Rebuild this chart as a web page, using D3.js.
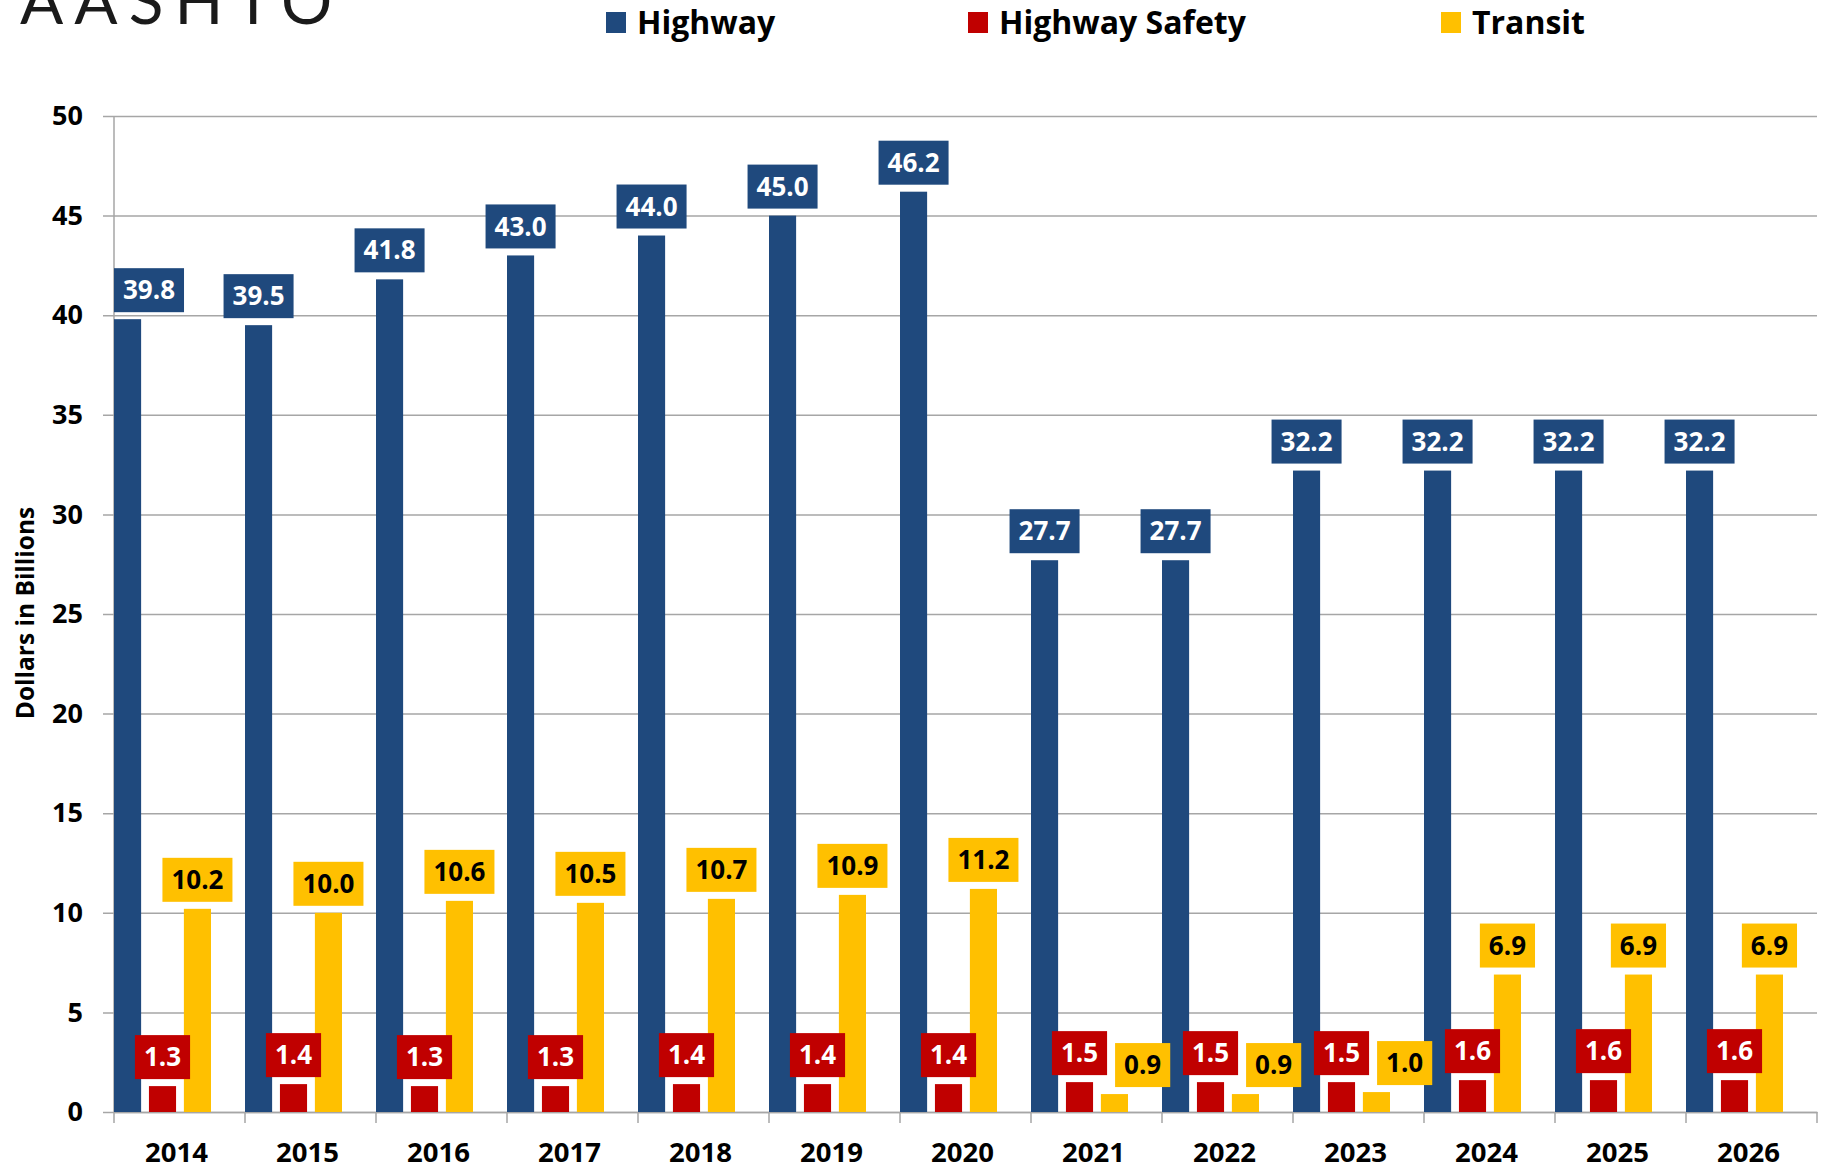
<!DOCTYPE html>
<html>
<head>
<meta charset="utf-8">
<script src="https://cdn.jsdelivr.net/npm/d3@7"></script>
<style>
  html, body { margin: 0; padding: 0; background: #fff; overflow: hidden; }
  svg { display: block; font-family: "Open Sans", "DejaVu Sans", sans-serif; }
</style>
</head>
<body>
<svg id="chart" width="1825" height="1171"></svg>
<script>
"use strict";

var years = ["2014", "2015", "2016", "2017", "2018", "2019", "2020",
             "2021", "2022", "2023", "2024", "2025", "2026"];
var seriesNames = ["Highway", "Highway Safety", "Transit"];
var highway = [39.8, 39.5, 41.8, 43.0, 44.0, 45.0, 46.2, 27.7, 27.7, 32.2, 32.2, 32.2, 32.2];
var highwaySafety = [1.3, 1.4, 1.3, 1.3, 1.4, 1.4, 1.4, 1.5, 1.5, 1.5, 1.6, 1.6, 1.6];
var transit = [10.2, 10.0, 10.6, 10.5, 10.7, 10.9, 11.2, 0.9, 0.9, 1.0, 6.9, 6.9, 6.9];
var yTicks = [0, 5, 10, 15, 20, 25, 30, 35, 40, 45, 50];

var colors = { "Highway": "#1F497D", "Highway Safety": "#C00000", "Transit": "#FFC000" };
var labelText = { "Highway": "#fff", "Highway Safety": "#fff", "Transit": "#000" };

var svg = d3.select("#chart");

var plotLeft = 114, plotRight = 1817, plotTop = 116, plotBottom = 1112;

var x = d3.scaleBand().domain(years).range([plotLeft, plotRight]).padding(0);
var xs = d3.scaleBand().domain(seriesNames).range([0, 97]).paddingInner(0.224);
var y = d3.scaleLinear().domain([0, 50]).range([plotBottom, plotTop]);

var values = { "Highway": highway, "Highway Safety": highwaySafety, "Transit": transit };

// logo text, its top is cut by the page edge as in the source image
svg.append("text")
    .attr("x", 20)
    .attr("y", 24)
    .attr("font-family", "Lato, 'Open Sans', sans-serif")
    .attr("font-weight", 400)
    .attr("font-size", 64)
    .attr("letter-spacing", 11)
    .attr("fill", "#1a1a1a")
    .text("AASHTO");

// legend
var legendX = [606, 968, 1441];
var legend = svg.append("g");
seriesNames.forEach(function (name, i) {
    legend.append("rect")
        .attr("x", legendX[i]).attr("y", 12)
        .attr("width", 20).attr("height", 21)
        .attr("fill", colors[name]);
    legend.append("text")
        .attr("x", legendX[i] + 31).attr("y", 23)
        .attr("dy", "0.35em")
        .attr("font-size", 32)
        .attr("font-weight", "bold")
        .attr("fill", "#000")
        .text(name);
});

// gridlines + y axis
var yAxis = svg.append("g")
    .attr("transform", "translate(" + plotLeft + ",0)")
    .call(d3.axisLeft(y).tickValues(yTicks).tickSize(0).tickPadding(31));
yAxis.select(".domain").remove();
yAxis.selectAll(".tick line")
    .attr("x1", -11)
    .attr("x2", plotRight - plotLeft)
    .attr("stroke", "#a6a6a6")
    .attr("stroke-width", 1.5);
yAxis.selectAll(".tick text")
    .attr("font-size", 27)
    .attr("font-weight", "bold")
    .attr("font-family", "'Open Sans', sans-serif")
    .attr("fill", "#000");

svg.append("line")
    .attr("x1", plotLeft).attr("x2", plotLeft)
    .attr("y1", plotTop).attr("y2", plotBottom)
    .attr("stroke", "#a6a6a6").attr("stroke-width", 1.5);

// x axis
var xAxis = svg.append("g")
    .attr("transform", "translate(0," + plotBottom + ")")
    .call(d3.axisBottom(x).tickSize(0).tickPadding(0));
xAxis.select(".domain").attr("stroke", "#a6a6a6").attr("stroke-width", 1.5);
xAxis.selectAll(".tick text")
    .attr("y", 40)
    .attr("x", -3)
    .attr("dy", "0.35em")
    .attr("font-size", 27.5)
    .attr("font-weight", "bold")
    .attr("font-family", "'Open Sans', sans-serif")
    .attr("fill", "#000");

var bounds = years.map(function (d) { return x(d); }).concat([plotRight]);
svg.append("g").selectAll("line")
    .data(bounds)
    .enter()
    .append("line")
    .attr("x1", function (d) { return d; })
    .attr("x2", function (d) { return d; })
    .attr("y1", plotBottom)
    .attr("y2", plotBottom + 11)
    .attr("stroke", "#a6a6a6")
    .attr("stroke-width", 1.5);

// bars
var bars = svg.append("g");
seriesNames.forEach(function (name, k) {
    bars.selectAll("rect.s" + k)
        .data(values[name])
        .enter()
        .append("rect")
        .attr("class", "s" + k)
        .attr("x", function (d, i) { return x(years[i]) + xs(name); })
        .attr("y", function (d) { return y(d); })
        .attr("width", xs.bandwidth())
        .attr("height", function (d) { return y(0) - y(d); })
        .attr("fill", colors[name]);
});

// data labels
var labels = svg.append("g");
var boxH = 44, gap = 7, padX = 9;
years.forEach(function (year, i) {
    var prevBox = null;
    seriesNames.forEach(function (name) {
        var v = values[name][i];
        var g = labels.append("g");
        var rect = g.append("rect").attr("fill", colors[name]);
        var t = g.append("text")
            .attr("font-size", 26)
            .attr("font-weight", "bold")
            .attr("text-anchor", "middle")
            .attr("dy", "0.35em")
            .attr("fill", labelText[name])
            .text(v.toFixed(1));
        var w = t.node().getComputedTextLength() + 2 * padX;
        var cx = x(year) + xs(name) + xs.bandwidth() / 2;
        var x0 = cx - w / 2;
        var yb = y(v) - gap;
        var y0 = yb - boxH;
        if (x0 < plotLeft) x0 = plotLeft;
        if (x0 + w > plotRight) x0 = plotRight - w;
        if (prevBox && x0 < prevBox.x1 + 8 && y0 < prevBox.y1 && yb > prevBox.y0) {
            x0 = prevBox.x1 + 8;
        }
        rect.attr("x", x0).attr("y", y0).attr("width", w).attr("height", boxH);
        t.attr("x", x0 + w / 2).attr("y", y0 + boxH / 2);
        prevBox = { x1: x0 + w, y0: y0, y1: yb };
    });
});

// y title
svg.append("text")
    .attr("transform", "translate(25,613) rotate(-90)")
    .attr("text-anchor", "middle")
    .attr("dy", "0.35em")
    .attr("font-size", 24.5)
    .attr("font-weight", "bold")
    .attr("fill", "#000")
    .text("Dollars in Billions");
</script>
</body>
</html>
